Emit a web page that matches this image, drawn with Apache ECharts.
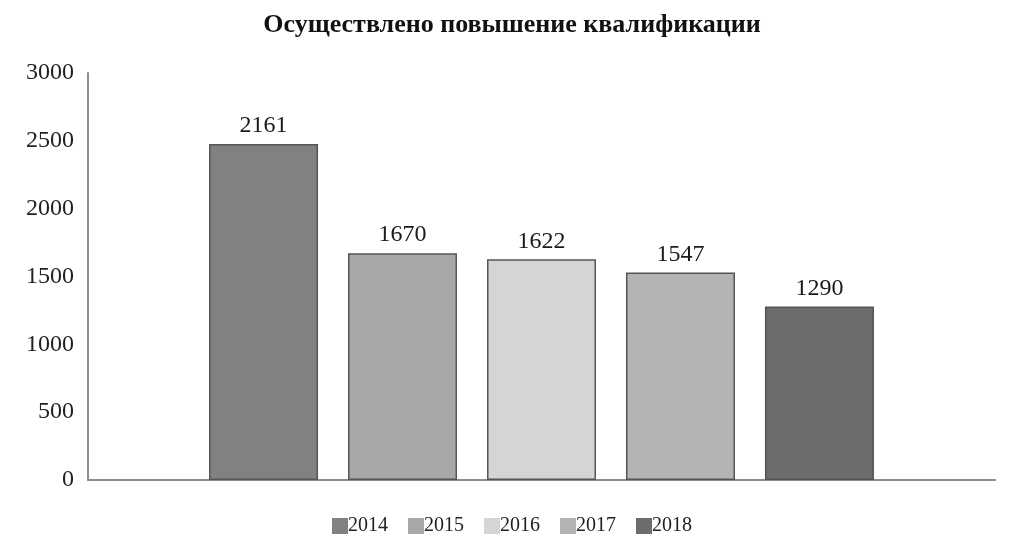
<!DOCTYPE html>
<html>
<head>
<meta charset="utf-8">
<script src="https://cdn.jsdelivr.net/npm/echarts@6/dist/echarts.min.js"></script>
<style>
html,body{margin:0;padding:0;background:#fff;}
#chart{width:1024px;height:557px;}
</style>
</head>
<body>
<div id="chart"></div>
<script>
const titleText = 'Осуществлено повышение квалификации';
const years = ['2014', '2015', '2016', '2017', '2018'];
const barHeights = [2476, 1672, 1627, 1529, 1278];
const labelValues = ['2161', '1670', '1622', '1547', '1290'];
const yTicks = [0, 500, 1000, 1500, 2000, 2500, 3000];
const colors = ['#808183', '#a7a8aa', '#d4d5d7', '#b3b4b6', '#6b6c6e'];

const serif = '"Liberation Serif", "DejaVu Serif", serif';
const chart = echarts.init(document.getElementById('chart'));
chart.setOption({
  animation: false,
  backgroundColor: '#fff',
  title: {
    text: titleText,
    left: 'center',
    top: 7,
    textStyle: { fontFamily: serif, fontWeight: 'bold', fontSize: 26, color: '#111' }
  },
  grid: { left: 88, right: 29, top: 73, bottom: 77, containLabel: false },
  legend: {
    bottom: 16,
    left: 'center',
    itemWidth: 16,
    itemHeight: 16,
    itemGap: 20,
    icon: 'rect',
    itemStyle: { borderWidth: 0 },
    textStyle: { fontFamily: serif, fontSize: 20, color: '#222', padding: [0, 0, 0, -5] },
    data: years
  },
  xAxis: {
    type: 'category',
    data: [''],
    axisLine: { lineStyle: { color: '#8c8c8c', width: 2 } },
    axisTick: { show: false },
    axisLabel: { show: false }
  },
  yAxis: {
    type: 'value',
    min: yTicks[0],
    max: yTicks[yTicks.length - 1],
    interval: yTicks[1] - yTicks[0],
    axisLine: { show: true, lineStyle: { color: '#8c8c8c', width: 2 } },
    axisTick: { show: false },
    splitLine: { show: false },
    axisLabel: { fontFamily: serif, fontSize: 24, color: '#222', margin: 14, formatter: v => String(v) }
  },
  series: years.map((y, i) => ({
    name: y,
    type: 'bar',
    data: [barHeights[i]],
    barWidth: 109,
    barGap: '27.5%',
    itemStyle: { color: colors[i], borderColor: '#555', borderWidth: 1.5 },
    label: {
      show: true,
      position: 'top',
      distance: 6,
      formatter: () => labelValues[i],
      fontFamily: serif,
      fontSize: 24,
      color: '#1a1a1a'
    }
  }))
});
</script>
</body>
</html>
